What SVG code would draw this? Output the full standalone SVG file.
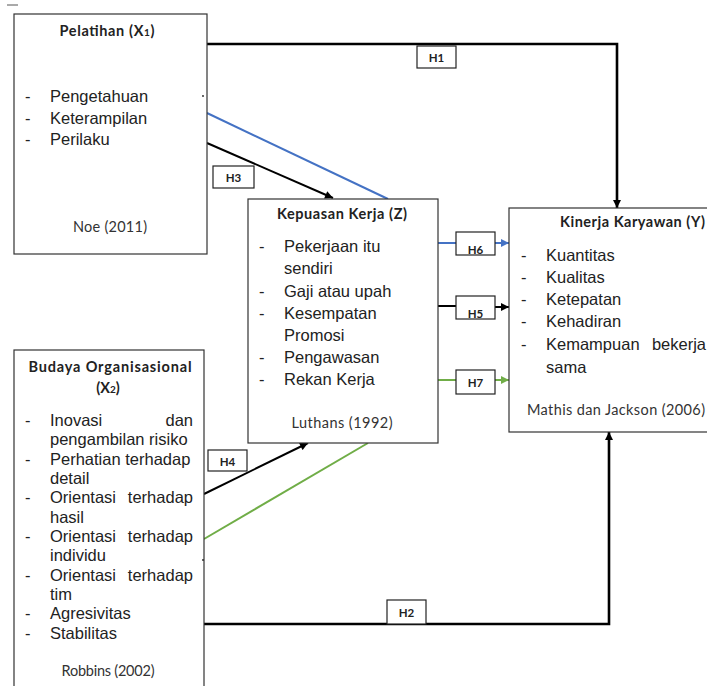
<svg xmlns="http://www.w3.org/2000/svg" width="707" height="686" viewBox="0 0 707 686">
<defs>
<style>
.box{fill:#fff;stroke:#333;stroke-width:1.2}
.hb{fill:#fff;stroke:#222;stroke-width:1.2}
.t{font-family:"Liberation Sans",Arial,sans-serif;font-size:16.5px;fill:#222}
.ti{font-family:Lato,"Open Sans",sans-serif;font-weight:bold;font-size:14.5px;fill:#222}
.ci{font-family:Lato,"Open Sans",sans-serif;font-size:14.5px;fill:#333}
.hl{font-family:Lato,"Open Sans",sans-serif;font-weight:bold;font-size:11.5px;fill:#222;text-anchor:middle}
.k{stroke:#000;stroke-width:2;fill:none}
.kt{stroke:#000;stroke-width:2.6;fill:none}
.b{stroke:#4472C4;stroke-width:2;fill:none}
.g{stroke:#70AD47;stroke-width:2;fill:none}
</style>
<marker id="ak" viewBox="0 0 10 10" refX="10" refY="5" markerWidth="9" markerHeight="8" markerUnits="userSpaceOnUse" orient="auto"><path d="M0,0L10,5L0,10z" fill="#000"/></marker>
<marker id="ab" viewBox="0 0 10 10" refX="10" refY="5" markerWidth="9" markerHeight="8" markerUnits="userSpaceOnUse" orient="auto"><path d="M0,0L10,5L0,10z" fill="#4472C4"/></marker>
<marker id="ag" viewBox="0 0 10 10" refX="10" refY="5" markerWidth="9" markerHeight="8" markerUnits="userSpaceOnUse" orient="auto"><path d="M0,0L10,5L0,10z" fill="#70AD47"/></marker>
<clipPath id="c6"><rect x="456" y="232" width="39" height="22"/></clipPath>
<clipPath id="c5"><rect x="456" y="296" width="39" height="22"/></clipPath>
</defs>
<rect width="707" height="686" fill="#fff"/>
<line x1="7" y1="5" x2="18" y2="5" stroke="#555" stroke-width="1"/>

<g id="connectors">
<polyline class="kt" points="207,44 617,44 617,208" marker-end="url(#ak)"/>
<polyline class="kt" points="204,624 609,624 609,432" marker-end="url(#ak)"/>
<line class="b" x1="207" y1="113" x2="388" y2="199"/>
<line class="k" x1="207" y1="143" x2="333" y2="198" marker-end="url(#ak)"/>
<line class="k" x1="204" y1="494" x2="308" y2="443" marker-end="url(#ak)"/>
<line class="g" x1="204" y1="539" x2="368" y2="443"/>
<line class="b" x1="438" y1="243" x2="456" y2="243"/>
<line class="b" x1="495" y1="243" x2="509" y2="243" marker-end="url(#ab)"/>
<line class="k" x1="438" y1="306" x2="456" y2="306"/>
<line class="k" x1="495" y1="307" x2="509" y2="307" marker-end="url(#ak)"/>
<line class="g" x1="438" y1="380" x2="456" y2="380"/>
<line class="g" x1="495" y1="380" x2="509" y2="380" marker-end="url(#ag)"/>
</g>

<g id="H1"><rect class="hb" x="417" y="46" width="39" height="22"/><text class="hl" x="436.5" y="62">H1</text></g>
<g id="H2"><rect class="hb" x="387" y="600" width="39" height="24"/><text class="hl" x="406.5" y="617">H2</text></g>
<g id="H3"><rect class="hb" x="213" y="166" width="41" height="22"/><text class="hl" x="233.5" y="182">H3</text></g>
<g id="H4"><rect class="hb" x="208" y="450" width="39" height="21"/><text class="hl" x="227.5" y="466">H4</text></g>
<g id="H6"><rect class="hb" x="456" y="232" width="39" height="23"/><text class="hl" x="475.5" y="254" clip-path="url(#c6)">H6</text></g>
<g id="H5"><rect class="hb" x="456" y="296" width="39" height="23"/><text class="hl" x="475.5" y="318" clip-path="url(#c5)">H5</text></g>
<g id="H7"><rect class="hb" x="456" y="370" width="39" height="24"/><text class="hl" x="475.5" y="387">H7</text></g>

<g id="pelatihan">
<rect class="box" x="14" y="14" width="193" height="240"/>
<text class="ti" x="107" y="36" text-anchor="middle" textLength="95">Pelatihan (X<tspan font-size="10">1</tspan>)</text>
<text class="t" x="25" y="102">-</text><text class="t" x="50" y="102">Pengetahuan</text>
<text class="t" x="25" y="124">-</text><text class="t" x="50" y="124">Keterampilan</text>
<text class="t" x="25" y="145">-</text><text class="t" x="50" y="145">Perilaku</text>
<text class="ci" x="110" y="232" text-anchor="middle" textLength="74">Noe (2011)</text>
<circle cx="203" cy="96" r="0.9" fill="#222"/>
</g>

<g id="kepuasan">
<rect class="box" x="248" y="199" width="190" height="244"/>
<text class="ti" x="342" y="219" text-anchor="middle" textLength="130">Kepuasan Kerja (Z)</text>
<text class="t" x="259" y="252">-</text><text class="t" x="284" y="252">Pekerjaan itu</text>
<text class="t" x="284" y="274">sendiri</text>
<text class="t" x="259" y="297">-</text><text class="t" x="284" y="297">Gaji atau upah</text>
<text class="t" x="259" y="319">-</text><text class="t" x="284" y="319">Kesempatan</text>
<text class="t" x="284" y="341">Promosi</text>
<text class="t" x="259" y="363">-</text><text class="t" x="284" y="363">Pengawasan</text>
<text class="t" x="259" y="385">-</text><text class="t" x="284" y="385">Rekan Kerja</text>
<text class="ci" x="342" y="428" text-anchor="middle" textLength="101">Luthans (1992)</text>
</g>

<g id="kinerja">
<rect class="box" x="509" y="208" width="220" height="224"/>
<text class="ti" x="560" y="227" textLength="145">Kinerja Karyawan (Y)</text>
<text class="t" x="521" y="261">-</text><text class="t" x="546" y="261">Kuantitas</text>
<text class="t" x="521" y="283">-</text><text class="t" x="546" y="283">Kualitas</text>
<text class="t" x="521" y="305">-</text><text class="t" x="546" y="305">Ketepatan</text>
<text class="t" x="521" y="327">-</text><text class="t" x="546" y="327">Kehadiran</text>
<text class="t" x="521" y="350">-</text><text class="t" x="546" y="350">Kemampuan</text><text class="t" x="706" y="350" text-anchor="end">bekerja</text>
<text class="t" x="546" y="373">sama</text>
<text class="ci" x="527" y="415" textLength="178">Mathis dan Jackson (2006)</text>
</g>

<g id="budaya">
<rect class="box" x="14" y="350" width="190" height="345"/>
<text class="ti" x="110" y="372" text-anchor="middle" textLength="163">Budaya Organisasional</text>
<text class="ti" x="108" y="393" text-anchor="middle">(X<tspan font-size="10">2</tspan>)</text>
<text class="t" x="25" y="426">-</text><text class="t" x="50" y="426">Inovasi</text><text class="t" x="193" y="426" text-anchor="end">dan</text>
<text class="t" x="50" y="445">pengambilan risiko</text>
<text class="t" x="25" y="465">-</text><text class="t" x="50" y="465">Perhatian terhadap</text>
<text class="t" x="50" y="484">detail</text>
<text class="t" x="25" y="503">-</text><text class="t" x="50" y="503">Orientasi</text><text class="t" x="193" y="503" text-anchor="end">terhadap</text>
<text class="t" x="50" y="523">hasil</text>
<text class="t" x="25" y="542">-</text><text class="t" x="50" y="542">Orientasi</text><text class="t" x="193" y="542" text-anchor="end">terhadap</text>
<text class="t" x="50" y="561">individu</text>
<text class="t" x="25" y="581">-</text><text class="t" x="50" y="581">Orientasi</text><text class="t" x="193" y="581" text-anchor="end">terhadap</text>
<text class="t" x="50" y="600">tim</text>
<text class="t" x="25" y="619">-</text><text class="t" x="50" y="619">Agresivitas</text>
<text class="t" x="25" y="639">-</text><text class="t" x="50" y="639">Stabilitas</text>
<text class="ci" x="108" y="676" text-anchor="middle" textLength="93">Robbins (2002)</text>
<circle cx="203" cy="560" r="0.9" fill="#222"/>
</g>
</svg>
